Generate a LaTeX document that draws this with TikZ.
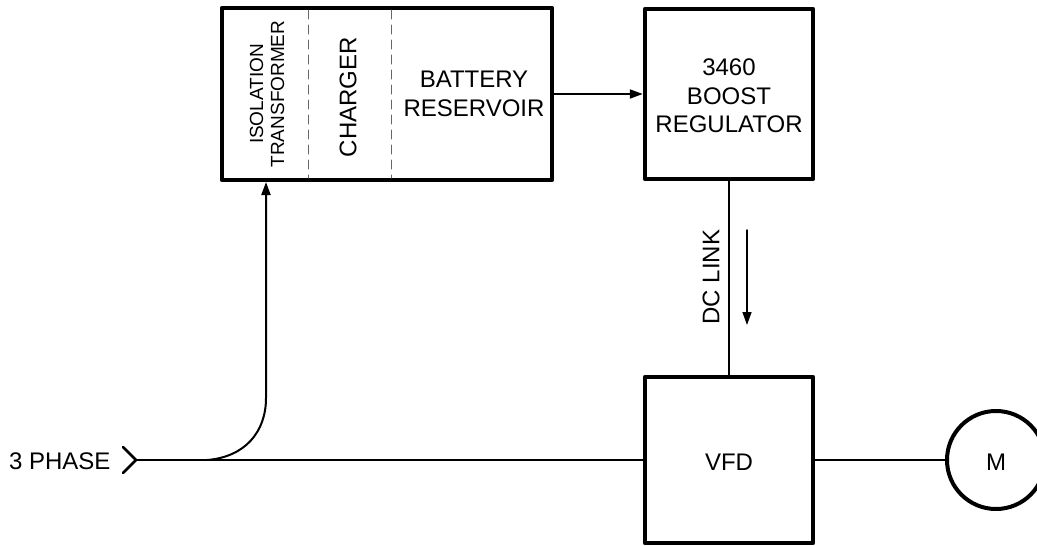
\documentclass[tikz,border=0pt]{standalone}
\usepackage{fontspec}
\setmainfont{Liberation Sans}
\usetikzlibrary{arrows.meta,calc,positioning}

\begin{document}
\begin{tikzpicture}[x=1pt,y=-1pt,>={Triangle[length=13pt,width=9pt]},line cap=round,line join=round]
\useasboundingbox (0,0) rectangle (1037,546);
\tikzset{box/.style={draw=black,line width=4.5pt,rectangle,inner sep=0pt},wire/.style={draw=black,line width=2pt},divider/.style={draw=black!60,line width=1pt,dash pattern=on 9pt off 6pt},lbl/.style={font=\fontsize{24}{28.5}\selectfont,align=center,text=black},smalllbl/.style={font=\fontsize{19}{21}\selectfont,align=center,text=black}}
% blocks
\node[box,minimum width=330,minimum height=172] (ups) at (387,94) {};
\node[box,minimum width=168,minimum height=170] (boost) at (729,94) {};
\node[box,minimum width=168,minimum height=166] (vfd) at (729,460) {};
\node[box,circle,line width=4pt,minimum size=98] (motor) at (996,460) {};
\draw[divider] (308,10) -- (308,178);
\draw[divider] (391,10) -- (391,178);
% labels
\node[smalllbl,rotate=90] (isotx) at (267,94) {ISOLATION\\TRANSFORMER};
\node[lbl,rotate=90] (chg) at (348,97) {CHARGER};
\node[lbl] (batt) at (474,94) {BATTERY\\RESERVOIR};
\node[lbl] (boosttxt) at (729,96) {3460\\BOOST\\REGULATOR};
\node[lbl] (vfdtxt) at (729,462) {VFD};
\node[lbl] (mtxt) at (996,462) {M};
\node[lbl,anchor=east] (phase) at (114,461) {3 PHASE};
\node[lbl,rotate=90] (dclink) at (711,277) {DC LINK};
% connectors
\coordinate (feed) at (136,460);
\coordinate (tap) at (207,460);
\coordinate (isoin) at (266,182);
\coordinate (flowtop) at (747,230);
\coordinate (flowbot) at (747,325);
\draw[wire,line width=2.6pt] (123,447) -- (feed) -- (123,473);
\draw[wire] (feed) -- (vfd.west);
\draw[wire,->] (tap) .. controls (245,457) and (266,432) .. (266,398) -- (isoin);
\draw[wire,->] (ups.east) -- (boost.west);
\draw[wire] (boost.south) -- (vfd.north);
\draw[wire,line width=1.4pt,->] (flowtop) -- (flowbot);
\draw[wire] (vfd.east) -- (motor.west);
\end{tikzpicture}
\end{document}
